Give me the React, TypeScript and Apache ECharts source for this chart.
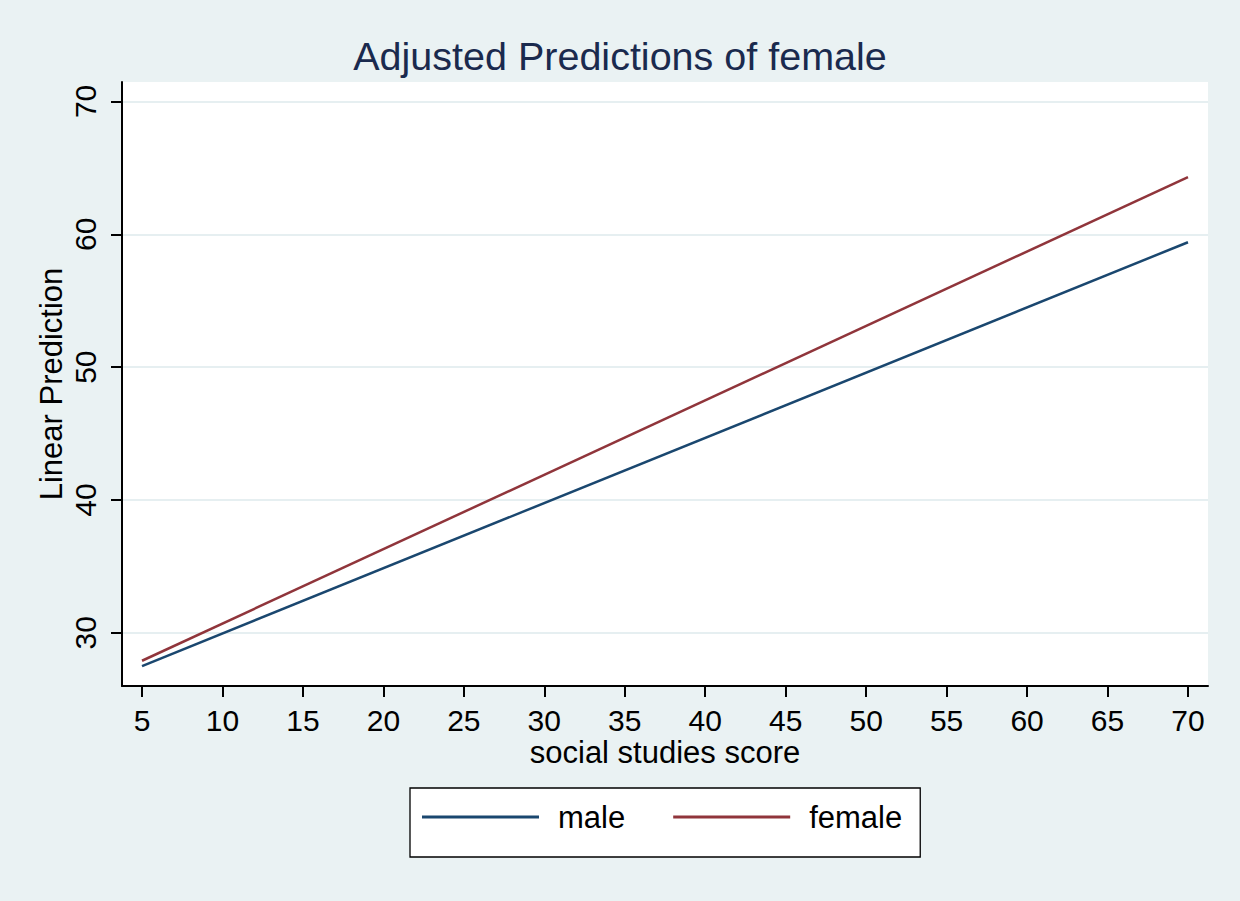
import React, { useEffect, useRef } from "react";
import * as echarts from "echarts";

const title = "Adjusted Predictions of female";
const xName = "social studies score";
const yName = "Linear Prediction";
const xTicks = [5, 10, 15, 20, 25, 30, 35, 40, 45, 50, 55, 60, 65, 70];
const yTicks = [30, 40, 50, 60, 70];
const scoreX = [5, 70];
const maleY = [27.5, 59.4];
const femaleY = [27.9, 64.3];
const seriesNames = ["male", "female"];
const colors = ["#1a476f", "#90353b"];

export default function App() {
  const ref = useRef<HTMLDivElement>(null);
  useEffect(() => {
    document.body.style.margin = "0";
    const chart = echarts.init(ref.current!, null, { renderer: "svg" });
    const font = "Liberation Sans, Arial, sans-serif";
    chart.setOption({
      animation: false,
      backgroundColor: "#eaf2f3",
      title: {
        text: title,
        left: "center",
        top: 35.5,
        padding: 0,
        textStyle: { color: "#1a2a4e", fontSize: 39.5, fontWeight: "normal", fontFamily: font },
      },
      legend: {
        left: 410,
        top: 788,
        padding: [13, 18, 24, 12],
        borderColor: "#000",
        borderWidth: 1.3,
        backgroundColor: "#fff",
        itemWidth: 117,
        itemHeight: 3,
        itemGap: 48,
        icon: "rect",
        data: seriesNames,
        textStyle: { fontSize: 31, color: "#000", fontFamily: font, padding: [0, 0, 0, 14], lineHeight: 32 },
      },
      grid: {
        left: 122,
        top: 82,
        right: 32,
        bottom: 215,
        show: true,
        backgroundColor: "#fff",
        borderWidth: 0,
      },
      xAxis: {
        type: "value",
        min: 3.756,
        max: 71.244,
        name: xName,
        nameLocation: "middle",
        nameGap: 51,
        nameMoveOverlap: false,
        nameTextStyle: { fontSize: 31, color: "#000", fontFamily: font },
        axisLine: { show: true, onZero: false, lineStyle: { color: "#000", width: 2 } },
        axisTick: { show: true, length: 11, customValues: xTicks, lineStyle: { color: "#000", width: 2 } },
        axisLabel: { customValues: xTicks, fontSize: 30, color: "#000", fontFamily: font, margin: 19 },
        splitLine: { show: false },
      },
      yAxis: {
        type: "value",
        min: 26,
        max: 71.46,
        name: yName,
        nameLocation: "middle",
        nameRotate: 90,
        nameGap: 55,
        nameMoveOverlap: false,
        nameTextStyle: { fontSize: 31, color: "#000", fontFamily: font },
        axisLine: { show: true, onZero: false, lineStyle: { color: "#000", width: 2 } },
        axisTick: { show: true, length: 11, customValues: yTicks, lineStyle: { color: "#000", width: 2 } },
        axisLabel: { customValues: yTicks, rotate: 90, fontSize: 30, color: "#000", fontFamily: font, margin: 22 },
        splitLine: { show: true, lineStyle: { color: "#e6eff1", width: 2 } },
      },
      series: [
        {
          name: seriesNames[0],
          type: "line",
          data: scoreX.map((x, i) => [x, maleY[i]]),
          showSymbol: false,
          symbol: "none",
          lineStyle: { color: colors[0], width: 2.5 },
          itemStyle: { color: colors[0] },
        },
        {
          name: seriesNames[1],
          type: "line",
          data: scoreX.map((x, i) => [x, femaleY[i]]),
          showSymbol: false,
          symbol: "none",
          lineStyle: { color: colors[1], width: 2.5 },
          itemStyle: { color: colors[1] },
        },
      ],
    });
    return () => chart.dispose();
  }, []);
  return <div ref={ref} style={{ width: 1240, height: 901 }} />;
}
